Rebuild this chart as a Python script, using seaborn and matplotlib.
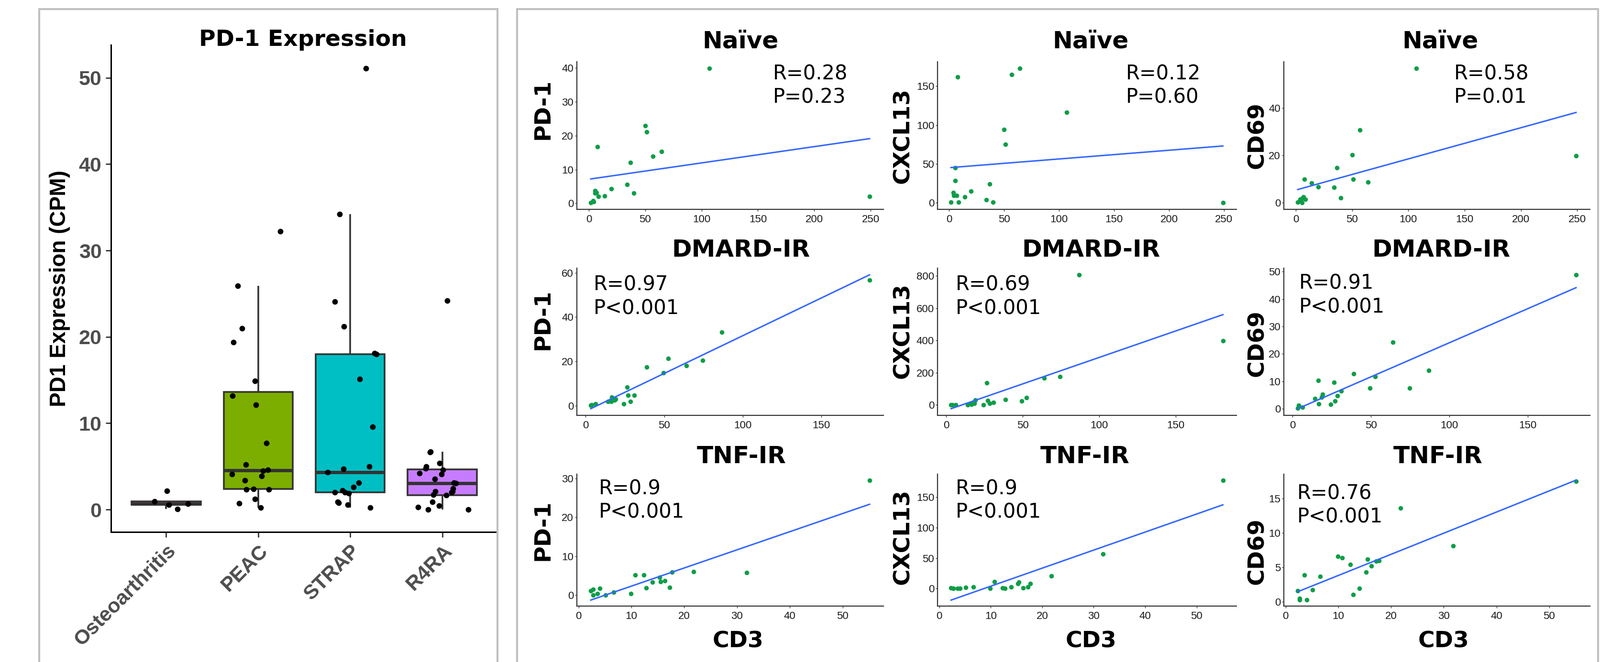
import numpy as np
import pandas as pd
import matplotlib
matplotlib.use("Agg")
import matplotlib.pyplot as plt
import seaborn as sns
from matplotlib.patches import Rectangle
from matplotlib.ticker import MultipleLocator

# ---------------- data ----------------
groups = ["Osteoarthritis", "PEAC", "STRAP", "R4RA"]
oa_pd1 = [0.57, 0.08, 0.96, 2.18, 0.67]
peac_pd1 = [32.2, 25.9, 21.0, 19.4, 14.9, 13.2, 12.1, 7.7, 5.2, 4.6,
            4.5, 4.1, 3.9, 3.4, 2.4, 2.3, 2.3, 1.2, 0.7, 0.2]
strap_pd1 = [51.1, 34.2, 24.1, 21.2, 18.1, 18.0, 15.1, 9.6, 5.0, 4.7, 4.3,
             3.1, 2.6, 2.2, 2.0, 2.0, 1.9, 0.9, 0.77, 0.57, 0.23]
r4ra_pd1 = [24.2, 6.7, 6.67, 5.35, 5.0, 4.76, 4.57, 4.23, 4.1, 3.55, 3.1, 3.05,
            2.43, 2.13, 2.1, 2.0, 1.69, 1.65, 0.86, 0.43, 0.28, 0.0, 0.0]
group_colors = ["#F8766D", "#7CAE00", "#00BFC4", "#C77CFF"]

row_titles = ["Naïve", "DMARD-IR", "TNF-IR"]
gene_labels = ["PD-1", "CXCL13", "CD69"]

naive_cd3 = [1.8, 3.9, 4.3, 5.5, 5.7, 6.8, 7.6, 8.6, 14.2, 20.0, 34.0, 36.8,
             40.0, 50.0, 51.2, 57.0, 64.4, 107.0, 249.0]
naive_pd1 = [0.2, 0.8, 0.5, 3.7, 3.0, 3.1, 16.7, 2.1, 2.2, 4.3, 5.5, 12.1,
             3.0, 23.0, 21.1, 13.9, 15.3, 39.9, 2.0]
naive_cxcl13 = [0.4, 13.0, 9.4, 45.0, 28.0, 9.4, 162.0, 0.4, 7.4, 15.0, 3.5, 24.0,
                0.4, 94.5, 75.0, 165.0, 173.0, 116.5, 0.0]
naive_cd69 = [0.2, 1.35, 1.0, 0.0, 1.8, 2.4, 9.8, 1.35, 8.3, 6.7, 6.4, 14.7,
              2.0, 20.3, 9.8, 30.7, 8.7, 56.8, 19.9]

dmard_cd3 = [3.3, 4.0, 6.3, 14.2, 16.4, 16.6, 18.6, 19.0, 24.4, 26.5, 27.1, 28.6,
             30.9, 38.8, 49.4, 52.6, 64.0, 74.5, 86.8, 180.7]
dmard_pd1 = [0.3, 0.5, 0.8, 2.0, 1.9, 3.8, 2.5, 3.1, 0.9, 8.4, 4.7, 1.9,
             4.8, 17.5, 14.9, 21.3, 18.1, 20.4, 33.1, 56.7]
dmard_cxcl13 = [0, 1, 2, 0, 10, 5, 9, 30, 0, 137, 26, 9,
                14, 32, 25, 46, 167, 176, 807, 399]
dmard_cd69 = [0.2, 1.2, 0.6, 3.7, 10.3, 1.8, 4.3, 5.2, 1.7, 9.6, 2.8, 4.7,
              6.5, 12.7, 7.5, 11.8, 24.2, 7.6, 13.9, 48.8]

tnf_cd3 = [2.3, 2.7, 2.7, 3.6, 4.0, 5.1, 6.6, 9.9, 10.7, 12.3, 12.8, 14.0,
           15.3, 15.5, 16.3, 17.2, 17.7, 21.8, 31.8, 55.1]
tnf_pd1 = [1.1, 1.5, 0.0, 0.3, 1.7, 0.0, 0.7, 0.4, 5.2, 5.2, 1.85, 3.3,
           4.5, 3.4, 3.7, 1.9, 5.9, 6.05, 5.8, 29.6]
tnf_cxcl13 = [1.3, 0.0, 0.3, 0.5, 0.5, 1.8, 2.9, 0.0, 11.0, 1.0, 0.3, 2.6,
              8.0, 10.4, 1.0, 2.9, 8.4, 20.6, 56.4, 177.5]
tnf_cd69 = [1.57, 0.47, 0.3, 3.9, 0.25, 1.77, 3.7, 6.6, 6.4, 5.4, 1.06, 1.97,
            4.3, 6.2, 5.2, 5.9, 6.0, 13.6, 8.1, 17.5]

stats_text = [["R=0.28\nP=0.23", "R=0.12\nP=0.60", "R=0.58\nP=0.01"],
              ["R=0.97\nP<0.001", "R=0.69\nP<0.001", "R=0.91\nP<0.001"],
              ["R=0.9\nP<0.001", "R=0.9\nP<0.001", "R=0.76\nP<0.001"]]

# ---------------- figure ----------------
W, H = 3345, 1385
fig = plt.figure(figsize=(W / 100, H / 100), dpi=100)
fig.patch.set_facecolor("white")


def px_axes(x0, y0, x1, y1):
    return fig.add_axes([x0 / W, 1 - y1 / H, (x1 - x0) / W, (y1 - y0) / H])


# panel borders
for (x0, y0, x1, y1) in [(82, 19, 1040, 1420), (1081, 19, 3341, 1420)]:
    fig.add_artist(Rectangle((x0 / W, 1 - y1 / H), (x1 - x0) / W, (y1 - y0) / H,
                             transform=fig.transFigure, fill=False,
                             edgecolor="#C0C0C0", linewidth=3.0))

# ---------------- box plot ----------------
box_df = pd.DataFrame({
    "group": ([groups[0]] * len(oa_pd1) + [groups[1]] * len(peac_pd1)
              + [groups[2]] * len(strap_pd1) + [groups[3]] * len(r4ra_pd1)),
    "value": oa_pd1 + peac_pd1 + strap_pd1 + r4ra_pd1,
})
axb = px_axes(232, 94, 1040, 1113)
sns.boxplot(data=box_df, x="group", y="value", hue="group", order=groups,
            hue_order=groups, palette=group_colors, saturation=1, width=0.75,
            showfliers=False, showcaps=False, linecolor="#333333", linewidth=2.6,
            legend=False, medianprops=dict(linewidth=5, color="#333333"), ax=axb)
np.random.seed(3)
sns.stripplot(data=box_df, x="group", y="value", order=groups, color="black",
              size=8.5, jitter=0.3, ax=axb, zorder=5)
axb.set_xlim(-0.6, 3.6)
axb.set_ylim(-2.6, 53.8)
axb.yaxis.set_major_locator(MultipleLocator(10))
for s in ["top", "right"]:
    axb.spines[s].set_visible(False)
for s in ["left", "bottom"]:
    axb.spines[s].set_color("black")
    axb.spines[s].set_linewidth(2.2)
axb.tick_params(axis="both", length=8, width=2, color="#333333", pad=6)
axb.set_xlabel("")
axb.set_ylabel("PD1 Expression (CPM)", fontsize=33, fontweight="bold",
               family="Liberation Sans")
axb.yaxis.set_label_coords(-0.105, 0.5)
for lab in axb.get_yticklabels():
    lab.set_fontsize(31); lab.set_fontweight("bold"); lab.set_color("#4D4D4D")
    lab.set_family("Liberation Sans")
axb.set_xticks(range(len(groups)))
axb.set_xticklabels(groups, rotation=45, ha="right", rotation_mode="anchor",
                    fontsize=31, fontweight="bold", color="#4D4D4D",
                    family="Liberation Sans")
fig.text(633 / W, 1 - 84 / H, "PD-1 Expression", ha="center", va="center",
         fontsize=34, fontweight="bold", family="DejaVu Sans")

# ---------------- scatter grid ----------------
col_x = [(1206, 1847), (1960, 2585), (2684, 3324)]
row_y = [(129, 438), (561, 869), (992, 1268)]
row_cd3 = [naive_cd3, dmard_cd3, tnf_cd3]
row_vals = [[naive_pd1, naive_cxcl13, naive_cd69],
            [dmard_pd1, dmard_cxcl13, dmard_cd69],
            [tnf_pd1, tnf_cxcl13, tnf_cd69]]
x_steps = [50, 50, 10]
y_steps = [[10, 50, 20], [20, 200, 10], [10, 50, 5]]
stat_pos = [[(0.64, 0.985), (0.63, 0.985), (0.556, 0.985)],
            [(0.055, 0.955), (0.06, 0.955), (0.05, 0.965)],
            [(0.072, 0.965), (0.06, 0.965), (0.044, 0.93)]]
ylab_x = [-0.076, -0.080, -0.052]
ylab_y = [[0.68, 0.5, 0.5], [0.65, 0.575, 0.49], [0.576, 0.525, 0.417]]
title_x = [[0.533, 0.512, 0.511], [0.535, 0.514, 0.514], [0.537, 0.493, 0.503]]
title_y = [1.136, 1.123, 1.134]
xlab_x = [0.525, 0.513, 0.522]
green = "#0F9D48"

for r in range(3):
    for c in range(3):
        ax = px_axes(col_x[c][0], row_y[r][0], col_x[c][1], row_y[r][1])
        sns.regplot(x=np.array(row_cd3[r]), y=np.array(row_vals[r][c]), ci=None,
                    ax=ax, scatter_kws=dict(s=48, color=green, linewidths=0, alpha=1),
                    line_kws=dict(color="#3366FF", linewidth=2.2))
        ax.margins(0.05)
        ax.autoscale_view()
        ax.xaxis.set_major_locator(MultipleLocator(x_steps[r]))
        ax.yaxis.set_major_locator(MultipleLocator(y_steps[r][c]))
        for s in ["top", "right"]:
            ax.spines[s].set_visible(False)
        for s in ["left", "bottom"]:
            ax.spines[s].set_color("#333333")
            ax.spines[s].set_linewidth(1.6)
        ax.tick_params(axis="both", length=3, width=1, color="#333333",
                       labelsize=16, labelcolor="#1A1A1A")
        ax.tick_params(axis="y", pad=2)
        ax.tick_params(axis="x", pad=5)
        for lab in ax.get_xticklabels() + ax.get_yticklabels():
            lab.set_family("Liberation Sans")
        ax.set_ylabel(gene_labels[c], fontsize=34, fontweight="bold",
                      family="DejaVu Sans")
        ax.yaxis.set_label_coords(ylab_x[c], ylab_y[r][c])
        if r == 2:
            ax.set_xlabel("CD3", fontsize=34, fontweight="bold", family="DejaVu Sans")
            ax.xaxis.set_label_coords(xlab_x[c], -0.185)
        else:
            ax.set_xlabel("")
        ax.text(title_x[r][c], title_y[r], row_titles[r], transform=ax.transAxes,
                ha="center", va="center", fontsize=36, fontweight="bold",
                family="DejaVu Sans")
        ax.text(stat_pos[r][c][0], stat_pos[r][c][1], stats_text[r][c],
                transform=ax.transAxes, ha="left", va="top", fontsize=30,
                family="DejaVu Sans", linespacing=1.22)

fig.savefig("out.png", dpi=100, facecolor="white")
